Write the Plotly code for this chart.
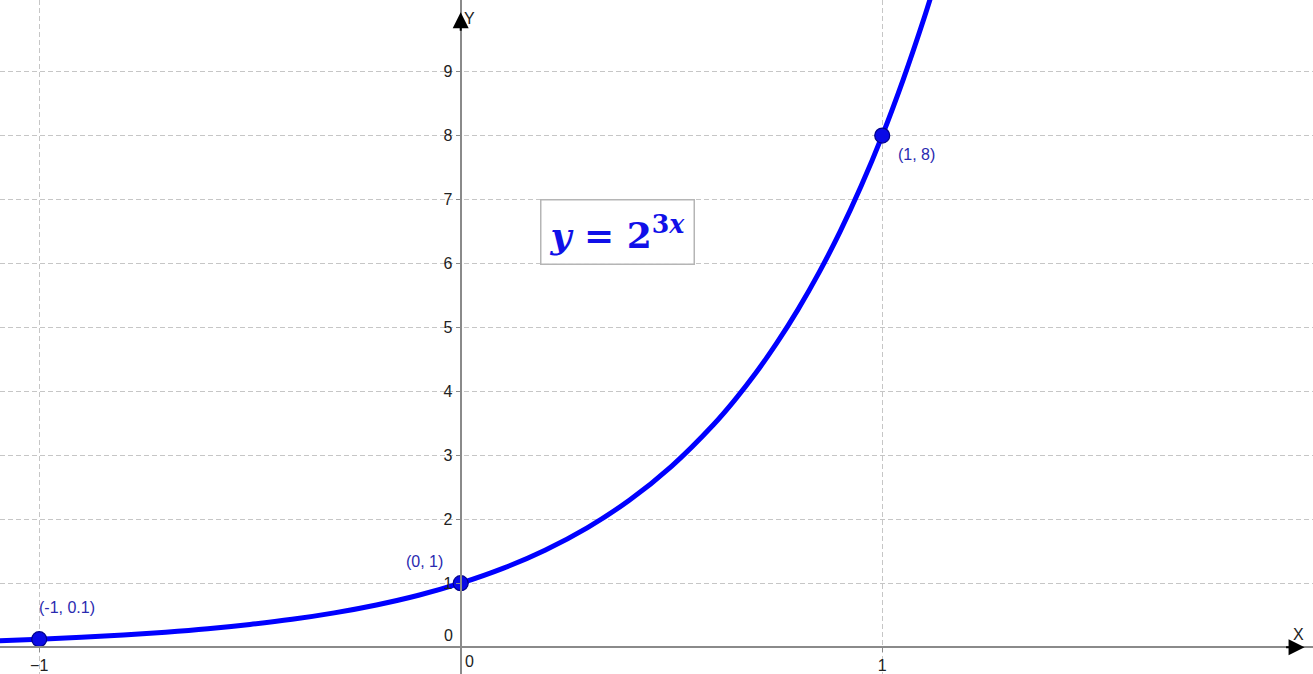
import plotly.graph_objects as go

# ---- data ----
curve_x = [-1.1, -1.0, -0.9, -0.8, -0.7, -0.6, -0.5, -0.4, -0.3, -0.2, -0.1,
           0.0, 0.1, 0.2, 0.3, 0.4, 0.5, 0.6, 0.65, 0.7, 0.75, 0.8, 0.85, 0.9, 0.95,
           1.0, 1.05, 1.1, 1.12]
curve_y = [0.10, 0.125, 0.154, 0.189, 0.233, 0.287, 0.354, 0.435, 0.536, 0.66, 0.812,
           1.0, 1.231, 1.516, 1.866, 2.297, 2.828, 3.482, 3.864, 4.287, 4.757, 5.278, 5.856,
           6.498, 7.211, 8.0, 8.88, 9.85, 10.27]

point_x = [-1, 0, 1]
point_y = [0.125, 1, 8]
point_labels = ["(-1, 0.1)", "(0, 1)", "(1, 8)"]
label_anchor = ["left", "right", "left"]
label_xshift = [-2, -16, 14]
label_yshift = [32, 22, -19]

x_ticks = [-1, 1]
x_tick_text = ["\u22121", "1"]
y_ticks = [1, 2, 3, 4, 5, 6, 7, 8, 9]

x_range = [-1.093, 2.022]
y_range = [-0.42, 10.12]

formula_text = "<b><i>y</i> = 2<sup>3<i>x</i></sup></b>"
formula_pos = (0.372, 6.49)

# ---- figure ----
fig = go.Figure()

fig.add_trace(go.Scatter(
    x=curve_x, y=curve_y, mode="lines",
    line=dict(color="#0000ff", width=5, shape="spline"),
    hoverinfo="skip", showlegend=False,
))

fig.add_trace(go.Scatter(
    x=point_x, y=point_y, mode="markers",
    marker=dict(size=15, color="#0a0ae6", line=dict(color="#00008b", width=1.2)),
    hoverinfo="skip", showlegend=False,
))

x_pos = (0 - y_range[0]) / (y_range[1] - y_range[0])
y_pos = (0 - x_range[0]) / (x_range[1] - x_range[0])

grid = dict(showgrid=True, gridcolor="#c6c6c6", gridwidth=1, griddash="5px,3px",
            zeroline=False, showline=True, linecolor="#8a8a8a", linewidth=2,
            ticks="outside", ticklen=4, tickcolor="#8a8a8a",
            tickfont=dict(family="Liberation Sans, Arial", size=16, color="#222222"))

fig.update_layout(
    width=1313, height=674,
    margin=dict(l=0, r=0, t=0, b=0),
    paper_bgcolor="white", plot_bgcolor="white",
    xaxis=dict(range=x_range, tickvals=x_ticks, ticktext=x_tick_text,
               anchor="free", position=x_pos, **grid),
    yaxis=dict(range=y_range, tickvals=y_ticks,
               anchor="free", position=y_pos, **grid),
    font=dict(family="Liberation Sans, Arial"),
)

annotations = []
for px, py, t, a, xs, ys in zip(point_x, point_y, point_labels, label_anchor, label_xshift, label_yshift):
    annotations.append(dict(x=px, y=py, text=t, showarrow=False, xanchor=a, yanchor="middle",
                            xshift=xs, yshift=ys,
                            font=dict(size=16, color="#2a2ab0", family="Liberation Sans, Arial")))

# origin zeros
annotations.append(dict(x=0, y=0, text="0", showarrow=False, xanchor="left", yanchor="top",
                        xshift=2, yshift=-4, font=dict(size=16, color="#222222")))
annotations.append(dict(x=0, y=0, text="0", showarrow=False, xanchor="right", yanchor="bottom",
                        xshift=-6, yshift=1, font=dict(size=16, color="#222222")))

# axis arrows
y_tip = y_range[1] - 0.19
x_tip = x_range[1] - 0.02
annotations.append(dict(x=0, y=y_tip, ax=0, ay=20, axref="pixel", ayref="pixel", text="",
                        showarrow=True, arrowhead=2, arrowsize=1.6, arrowwidth=2, arrowcolor="black",
                        standoff=0))
annotations.append(dict(x=x_tip, y=0, ax=-20, ay=0, axref="pixel", ayref="pixel", text="",
                        showarrow=True, arrowhead=2, arrowsize=1.6, arrowwidth=2, arrowcolor="black",
                        standoff=0))
annotations.append(dict(x=0, y=y_tip, text="Y", showarrow=False, xanchor="left", yanchor="top",
                        xshift=1, yshift=4, font=dict(size=16, color="#222222")))
annotations.append(dict(x=x_tip, y=0, text="X", showarrow=False, xanchor="right", yanchor="bottom",
                        xshift=1, yshift=2, font=dict(size=16, color="#222222")))

# formula box
annotations.append(dict(x=formula_pos[0], y=formula_pos[1], text=formula_text, showarrow=False,
                        xanchor="center", yanchor="middle",
                        font=dict(size=36, color="#1010e8", family="DejaVu Serif, Liberation Serif"),
                        bordercolor="#b5b5b5", borderwidth=1.5, borderpad=8,
                        bgcolor="rgba(255,255,255,0.9)"))

fig.update_layout(annotations=annotations)

fig.write_html("out.html", config={"displayModeBar": False},
               post_script="document.body.style.margin='0';")
